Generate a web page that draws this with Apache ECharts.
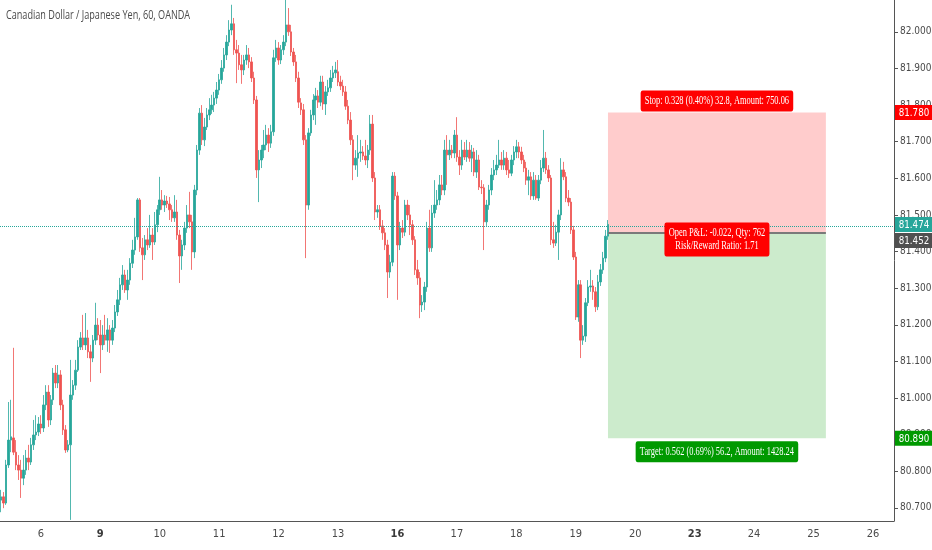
<!DOCTYPE html>
<html>
<head>
<meta charset="utf-8">
<title>CADJPY 60</title>
<script src="https://cdn.jsdelivr.net/npm/echarts/dist/echarts.min.js"></script>
<style>
  html, body { margin: 0; padding: 0; background: #fff; }
  #chart-div { width: 932px; height: 550px; }
</style>
</head>
<body>
<div id="chart-div"></div>
<script>
// hourly bars, day labels sit on the first bar of each trading day
const dayLabels = ['6', '9', '10', '11', '12', '13', '16', '17', '18', '19', '20', '23', '24', '25', '26']
const weekStarts = ['9', '16', '23']
const firstDayBar = 16
const barsPerDay = 24
const totalBars = 361

const opens = [
  80.721, 80.730, 80.713, 80.817, 80.885, 80.891, 80.852, 80.817, 80.803, 80.781,
  80.803, 80.836, 80.825, 80.872, 80.899, 80.907, 80.929, 80.918, 80.981, 81.016,
  80.940, 80.995, 81.068, 81.041, 81.063, 80.981, 80.913, 80.858, 80.872, 81.008,
  81.035, 81.076, 81.139, 81.164, 81.145, 81.164, 81.126, 81.109, 81.158, 81.199,
  81.172, 81.145, 81.172, 81.158, 81.186, 81.158, 81.191, 81.235, 81.268, 81.309,
  81.336, 81.295, 81.322, 81.368, 81.404, 81.440, 81.541, 81.410, 81.391, 81.432,
  81.418, 81.445, 81.426, 81.473, 81.514, 81.541, 81.527, 81.538, 81.530, 81.514,
  81.492, 81.508, 81.445, 81.388, 81.418, 81.464, 81.500, 81.481, 81.399, 81.568,
  81.677, 81.778, 81.705, 81.740, 81.773, 81.787, 81.800, 81.819, 81.841, 81.869,
  81.901, 81.937, 81.972, 82.005, 82.022, 81.951, 81.942, 81.910, 81.896, 81.923,
  81.937, 81.918, 81.874, 81.814, 81.623, 81.650, 81.677, 81.691, 81.718, 81.696,
  81.727, 81.929, 81.956, 81.923, 81.951, 81.972, 82.019, 82.000, 81.945, 81.918,
  81.874, 81.806, 81.787, 81.705, 81.527, 81.724, 81.773, 81.814, 81.825, 81.808,
  81.863, 81.803, 81.836, 81.847, 81.874, 81.888, 81.891, 81.863, 81.852, 81.836,
  81.797, 81.759, 81.705, 81.636, 81.655, 81.669, 81.672, 81.661, 81.650, 81.677,
  81.748, 81.601, 81.508, 81.514, 81.470, 81.451, 81.418, 81.344, 81.371, 81.606,
  81.552, 81.418, 81.464, 81.453, 81.527, 81.500, 81.473, 81.432, 81.350, 81.328,
  81.254, 81.262, 81.303, 81.464, 81.410, 81.505, 81.527, 81.541, 81.582, 81.568,
  81.677, 81.664, 81.677, 81.669, 81.718, 81.658, 81.636, 81.677, 81.658, 81.677,
  81.655, 81.672, 81.617, 81.650, 81.576, 81.574, 81.481, 81.527, 81.568, 81.609,
  81.623, 81.636, 81.650, 81.636, 81.655, 81.623, 81.614, 81.650, 81.672, 81.686,
  81.672, 81.650, 81.628, 81.595, 81.604, 81.552, 81.595, 81.546, 81.595, 81.628,
  81.655, 81.623, 81.601, 81.432, 81.423, 81.453, 81.500, 81.623, 81.604, 81.546,
  81.535, 81.459, 81.385, 81.221, 81.309, 81.158, 81.169, 81.260, 81.303, 81.306,
  81.290, 81.249, 81.317, 81.350, 81.382, 81.442
]
const closes = [
  80.730, 80.713, 80.817, 80.885, 80.894, 80.852, 80.817, 80.803, 80.781, 80.803,
  80.836, 80.825, 80.872, 80.899, 80.907, 80.929, 80.918, 80.981, 81.016, 80.940,
  80.995, 81.068, 81.041, 81.063, 80.981, 80.913, 80.858, 80.872, 81.008, 81.035,
  81.076, 81.139, 81.164, 81.145, 81.164, 81.126, 81.109, 81.158, 81.199, 81.172,
  81.145, 81.172, 81.158, 81.186, 81.158, 81.191, 81.235, 81.268, 81.309, 81.336,
  81.295, 81.322, 81.368, 81.404, 81.440, 81.541, 81.410, 81.391, 81.432, 81.418,
  81.445, 81.426, 81.473, 81.514, 81.541, 81.527, 81.538, 81.530, 81.514, 81.492,
  81.508, 81.445, 81.388, 81.418, 81.464, 81.500, 81.481, 81.399, 81.568, 81.677,
  81.778, 81.705, 81.740, 81.773, 81.787, 81.800, 81.819, 81.841, 81.869, 81.901,
  81.937, 81.972, 82.005, 82.022, 81.951, 81.942, 81.910, 81.896, 81.923, 81.937,
  81.918, 81.874, 81.814, 81.623, 81.650, 81.677, 81.691, 81.718, 81.696, 81.727,
  81.929, 81.956, 81.923, 81.951, 81.972, 82.019, 82.000, 81.945, 81.918, 81.874,
  81.808, 81.787, 81.705, 81.527, 81.724, 81.773, 81.814, 81.825, 81.808, 81.863,
  81.803, 81.836, 81.847, 81.874, 81.888, 81.896, 81.863, 81.852, 81.836, 81.797,
  81.759, 81.705, 81.636, 81.655, 81.669, 81.672, 81.661, 81.650, 81.677, 81.748,
  81.601, 81.508, 81.514, 81.470, 81.451, 81.418, 81.344, 81.371, 81.606, 81.552,
  81.418, 81.464, 81.453, 81.527, 81.500, 81.473, 81.432, 81.350, 81.328, 81.254,
  81.262, 81.303, 81.464, 81.410, 81.505, 81.527, 81.541, 81.582, 81.568, 81.677,
  81.664, 81.677, 81.669, 81.718, 81.658, 81.636, 81.677, 81.658, 81.677, 81.655,
  81.672, 81.617, 81.650, 81.576, 81.574, 81.481, 81.527, 81.568, 81.609, 81.623,
  81.636, 81.650, 81.636, 81.655, 81.623, 81.614, 81.650, 81.672, 81.686, 81.672,
  81.650, 81.628, 81.595, 81.604, 81.552, 81.595, 81.546, 81.595, 81.628, 81.655,
  81.623, 81.601, 81.432, 81.423, 81.453, 81.500, 81.623, 81.604, 81.546, 81.535,
  81.459, 81.385, 81.221, 81.309, 81.158, 81.169, 81.260, 81.303, 81.306, 81.290,
  81.249, 81.317, 81.350, 81.382, 81.442, 81.474
]
const lows = [
  80.688, 80.699, 80.708, 80.809, 80.852, 80.844, 80.803, 80.776, 80.727, 80.762,
  80.790, 80.803, 80.817, 80.858, 80.885, 80.896, 80.902, 80.907, 80.967, 80.921,
  80.926, 80.981, 81.027, 81.027, 80.967, 80.899, 80.850, 80.852, 80.667, 80.995,
  81.022, 81.071, 81.131, 81.131, 81.131, 81.109, 81.044, 81.098, 81.145, 81.158,
  81.068, 81.131, 81.145, 81.126, 81.123, 81.145, 81.180, 81.224, 81.254, 81.295,
  81.287, 81.268, 81.309, 81.355, 81.391, 81.432, 81.399, 81.322, 81.377, 81.404,
  81.410, 81.377, 81.418, 81.453, 81.500, 81.514, 81.508, 81.519, 81.486, 81.481,
  81.481, 81.432, 81.314, 81.350, 81.404, 81.451, 81.464, 81.350, 81.382, 81.554,
  81.664, 81.691, 81.688, 81.732, 81.759, 81.776, 81.781, 81.803, 81.828, 81.858,
  81.891, 81.923, 81.961, 81.991, 81.937, 81.860, 81.896, 81.858, 81.882, 81.910,
  81.901, 81.863, 81.803, 81.601, 81.535, 81.628, 81.655, 81.677, 81.672, 81.683,
  81.716, 81.918, 81.910, 81.912, 81.937, 81.961, 81.989, 81.934, 81.907, 81.863,
  81.792, 81.773, 81.691, 81.382, 81.514, 81.716, 81.759, 81.746, 81.792, 81.797,
  81.787, 81.773, 81.825, 81.836, 81.863, 81.874, 81.852, 81.841, 81.825, 81.787,
  81.748, 81.691, 81.595, 81.623, 81.604, 81.645, 81.650, 81.636, 81.628, 81.664,
  81.590, 81.486, 81.492, 81.459, 81.432, 81.404, 81.273, 81.328, 81.360, 81.541,
  81.268, 81.404, 81.437, 81.442, 81.486, 81.445, 81.418, 81.336, 81.309, 81.218,
  81.235, 81.240, 81.290, 81.399, 81.399, 81.492, 81.514, 81.527, 81.554, 81.554,
  81.582, 81.650, 81.655, 81.655, 81.645, 81.609, 81.623, 81.650, 81.645, 81.645,
  81.617, 81.606, 81.601, 81.568, 81.557, 81.404, 81.470, 81.514, 81.554, 81.595,
  81.609, 81.628, 81.623, 81.623, 81.609, 81.601, 81.606, 81.636, 81.655, 81.655,
  81.639, 81.617, 81.582, 81.554, 81.541, 81.541, 81.541, 81.538, 81.584, 81.617,
  81.612, 81.590, 81.418, 81.410, 81.415, 81.377, 81.486, 81.595, 81.535, 81.524,
  81.448, 81.377, 81.213, 81.208, 81.109, 81.145, 81.153, 81.251, 81.290, 81.268,
  81.235, 81.240, 81.306, 81.339, 81.371, 81.432
]
const highs = [
  80.749, 80.743, 80.831, 80.989, 80.995, 81.137, 80.885, 80.844, 80.831, 80.844,
  80.858, 80.872, 80.891, 80.940, 80.953, 80.948, 80.953, 81.008, 81.035, 81.035,
  81.008, 81.082, 81.090, 81.090, 81.076, 80.995, 80.926, 80.885, 81.104, 81.049,
  81.104, 81.158, 81.180, 81.227, 81.232, 81.186, 81.145, 81.172, 81.260, 81.218,
  81.213, 81.199, 81.227, 81.218, 81.199, 81.213, 81.254, 81.295, 81.328, 81.363,
  81.350, 81.350, 81.382, 81.432, 81.492, 81.546, 81.546, 81.437, 81.445, 81.464,
  81.500, 81.464, 81.508, 81.527, 81.604, 81.568, 81.554, 81.552, 81.549, 81.527,
  81.554, 81.541, 81.459, 81.432, 81.481, 81.527, 81.563, 81.500, 81.582, 81.691,
  81.792, 81.800, 81.765, 81.792, 81.819, 81.828, 81.836, 81.863, 81.885, 81.923,
  81.956, 81.991, 82.032, 82.074, 82.038, 81.978, 81.964, 81.937, 81.937, 81.964,
  81.956, 81.931, 81.891, 81.825, 81.677, 81.691, 81.732, 81.746, 81.737, 81.746,
  81.951, 81.978, 81.972, 81.964, 81.991, 82.087, 82.065, 82.019, 81.956, 81.937,
  81.891, 81.819, 81.803, 81.718, 81.737, 81.787, 81.830, 81.847, 81.841, 81.880,
  81.880, 81.852, 81.869, 81.896, 81.907, 81.918, 81.923, 81.880, 81.869, 81.852,
  81.814, 81.781, 81.718, 81.677, 81.718, 81.705, 81.688, 81.705, 81.691, 81.773,
  81.773, 81.617, 81.527, 81.527, 81.486, 81.464, 81.432, 81.391, 81.617, 81.617,
  81.563, 81.481, 81.486, 81.541, 81.541, 81.527, 81.486, 81.442, 81.377, 81.344,
  81.281, 81.317, 81.481, 81.514, 81.527, 81.595, 81.568, 81.609, 81.609, 81.705,
  81.718, 81.705, 81.691, 81.732, 81.767, 81.677, 81.705, 81.699, 81.705, 81.699,
  81.691, 81.683, 81.677, 81.664, 81.595, 81.584, 81.541, 81.582, 81.628, 81.650,
  81.664, 81.705, 81.672, 81.677, 81.672, 81.650, 81.664, 81.688, 81.705, 81.699,
  81.686, 81.664, 81.645, 81.623, 81.617, 81.617, 81.609, 81.609, 81.650, 81.732,
  81.672, 81.636, 81.609, 81.481, 81.473, 81.514, 81.655, 81.645, 81.617, 81.568,
  81.546, 81.470, 81.399, 81.322, 81.322, 81.199, 81.273, 81.322, 81.350, 81.322,
  81.303, 81.336, 81.366, 81.399, 81.459, 81.486
]

// long position tool
const stopPrice = 81.780
const entryPrice = 81.452
const targetPrice = 80.890
const lastPrice = 81.474
const positionStart = 245
const positionEnd = 333
const stopText = 'Stop: 0.328 (0.40%) 32.8, Amount: 750.06'
const pnlText = 'Open P&L: -0.022, Qty: 762\nRisk/Reward Ratio: 1.71'
const targetText = 'Target: 0.562 (0.69%) 56.2, Amount: 1428.24'
const titleText = 'Canadian Dollar / Japanese Yen, 60, OANDA'

const UP = '#26a69a'
const DOWN = '#ef5350'
const AXIS_FONT = '"Liberation Sans Narrow", "DejaVu Sans Condensed", Roboto, sans-serif'

const categories = []
for (let i = 0; i < totalBars; i++) categories.push('h' + i)
const candles = opens.map((o, i) => [o, closes[i], lows[i], highs[i]])

const isDayStart = (i) => i >= firstDayBar && (i - firstDayBar) % barsPerDay === 0

let myChart = echarts.init(document.getElementById('chart-div'))

const option = {
  animation: false,
  grid: { left: 0, right: 38, top: 0, bottom: 29, containLabel: false, outerBoundsMode: 'none' },
  xAxis: {
    type: 'category',
    data: categories,
    axisLine: { lineStyle: { color: '#555' } },
    axisTick: { interval: (i) => isDayStart(i), length: 4, lineStyle: { color: '#555' } },
    axisLabel: {
      interval: (i) => isDayStart(i),
      margin: 8,
      color: '#4a4a4a',
      fontFamily: AXIS_FONT,
      fontSize: 11,
      formatter: (v, i) => {
        const d = dayLabels[(i - firstDayBar) / barsPerDay]
        return weekStarts.includes(d) ? '{b|' + d + '}' : d
      },
      rich: { b: { fontWeight: 'bold', color: '#3a3a3a', fontFamily: AXIS_FONT, fontSize: 11 } }
    },
    splitLine: { show: false }
  },
  yAxis: {
    type: 'value',
    position: 'right',
    scale: true,
    min: 80.664,
    max: 82.087,
    splitNumber: 14,
    axisLine: { show: true, lineStyle: { color: '#555' } },
    axisTick: { show: true, length: 4, lineStyle: { color: '#555' } },
    axisLabel: {
      margin: 6,
      color: '#4a4a4a',
      fontFamily: AXIS_FONT,
      fontSize: 10,
      showMinLabel: false,
      showMaxLabel: false,
      formatter: (v) => v.toFixed(3)
    },
    splitLine: { show: false }
  },
  series: [{
    type: 'candlestick',
    data: candles,
    barWidth: 2,
    itemStyle: { color: UP, color0: DOWN, borderColor: UP, borderColor0: DOWN, borderWidth: 0.8 },
    markArea: {
      silent: true,
      data: [
        [{ xAxis: positionStart, yAxis: stopPrice, itemStyle: { color: 'rgba(255,0,0,0.2)' } },
         { xAxis: positionEnd, yAxis: entryPrice }],
        [{ xAxis: positionStart, yAxis: entryPrice, itemStyle: { color: 'rgba(0,153,0,0.2)' } },
         { xAxis: positionEnd, yAxis: targetPrice }]
      ]
    },
    markLine: {
      silent: true,
      symbol: 'none',
      label: { show: false },
      data: [
        { yAxis: lastPrice, lineStyle: { color: UP, type: 'dotted', width: 1 } },
        [{ coord: [positionStart, entryPrice], lineStyle: { color: '#7a7a7a', type: 'solid', width: 2 } },
         { coord: [positionEnd, entryPrice] }]
      ]
    }
  }]
}

myChart.setOption(option)

// labels drawn on top, placed with the chart's own coordinate conversion
function drawLabels() {
  const mid = Math.round((positionStart + positionEnd) / 2)
  const toPx = (v) => myChart.convertToPixel({ seriesIndex: 0 }, [mid, v])
  const cx = toPx(stopPrice)[0]
  const boxFont = '12px "Liberation Serif", "Times New Roman", serif'
  const squeeze = 0.7
  const box = (y, text, bg, vAlign) => ({
    type: 'text', x: cx, y: y, scaleX: squeeze, z: 100,
    style: {
      text: text, font: boxFont, fill: '#fff', backgroundColor: bg,
      borderRadius: 3, padding: [4, 6], align: 'center', verticalAlign: vAlign, lineHeight: 13
    }
  })
  const axisX = myChart.getWidth() - 38
  // shift keeps the entry tag from sitting on the last-price tag
  const tag = (price, bg, shift) => {
    const y = toPx(price)[1] + shift
    return [
      { type: 'rect', z: 100, shape: { x: axisX + 1, y: y - 7.5, width: 38, height: 15 }, style: { fill: bg } },
      { type: 'text', z: 101, x: axisX + 20, y: y + 0.5, scaleX: 0.88,
        style: { text: price.toFixed(3), fill: '#fff', font: '11px ' + AXIS_FONT, align: 'center', verticalAlign: 'middle' } }
    ]
  }
  const elements = [
    { type: 'text', x: 6, y: 15, scaleX: squeeze, z: 100,
      style: { text: titleText, font: '13px "Open Sans", sans-serif', fill: '#4a4a4a', verticalAlign: 'middle' } },
    box(toPx(stopPrice)[1] - 1, stopText, '#ff0000', 'bottom'),
    box(toPx(entryPrice)[1] + 7, pnlText, '#ff0000', 'middle'),
    box(toPx(targetPrice)[1] + 3, targetText, '#009900', 'top')
  ]
  .concat(tag(stopPrice, '#ff0000', 0))
  .concat(tag(lastPrice, UP, 0))
  .concat(tag(entryPrice, '#505050', 8))
  .concat(tag(targetPrice, '#009900', 0))
  myChart.setOption({ graphic: elements })
}

drawLabels()
</script>
</body>
</html>
